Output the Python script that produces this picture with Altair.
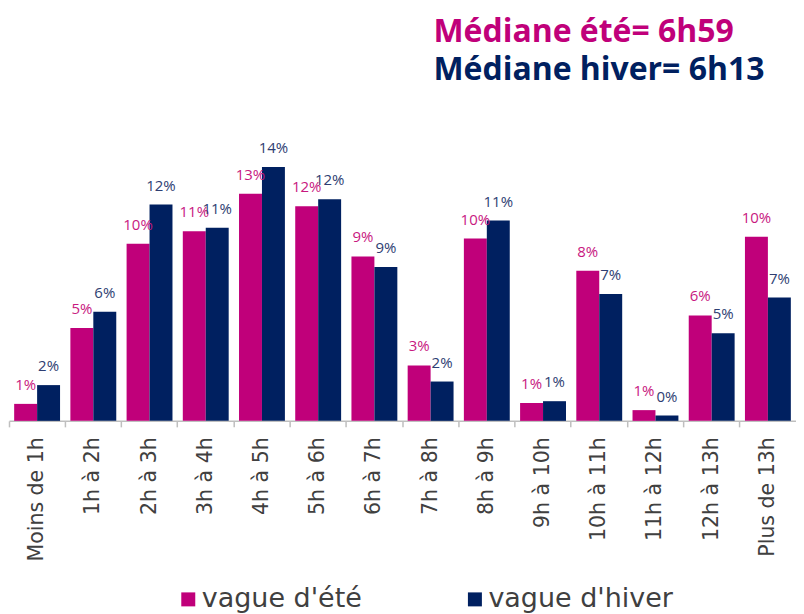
import altair as alt
import pandas as pd

categories = ["Moins de 1h", "1h à 2h", "2h à 3h", "3h à 4h", "4h à 5h", "5h à 6h",
              "6h à 7h", "7h à 8h", "8h à 9h", "9h à 10h", "10h à 11h", "11h à 12h",
              "12h à 13h", "Plus de 13h"]
ete = [0.95, 5.2, 9.9, 10.6, 12.7, 12.0, 9.2, 3.1, 10.2, 1.0, 8.4, 0.6, 5.9, 10.3]
hiver = [2.0, 6.1, 12.1, 10.8, 14.2, 12.4, 8.6, 2.2, 11.2, 1.1, 7.1, 0.3, 4.9, 6.9]
series = ["vague d'été", "vague d'hiver"]
bar_colors = ["#C0007A", "#002060"]
label_colors = ["#C8187F", "#2E3E72"]
title_lines = ["Médiane été= 6h59", "Médiane hiver= 6h13"]

rows = []
for i, c in enumerate(categories):
    rows.append({"cat": c, "serie": series[0], "v": ete[i]})
    rows.append({"cat": c, "serie": series[1], "v": hiver[i]})
df = pd.DataFrame(rows)

W = 788
H = 290

base = alt.Chart(df).transform_calculate(
    label="format(datum.v / 100, '.0%')"
).encode(
    x=alt.X("cat:N", sort=categories, title=None,
            scale=alt.Scale(paddingInner=0, paddingOuter=0),
            axis=alt.Axis(labelAngle=-90, bandPosition=0,
                          labelAlign="right", labelBaseline="middle",
                          labelFont="DejaVu Sans", labelFontSize=20.5, labelColor="#404040",
                          labelPadding=10, tickSize=6, tickColor="#BFBFBF",
                          domainColor="#BFBFBF", domainWidth=1.5, tickWidth=1.5,
                          labelLimit=300)),
    xOffset=alt.XOffset("serie:N", sort=series,
                        scale=alt.Scale(paddingInner=0, paddingOuter=0.225)),
    y=alt.Y("v:Q", scale=alt.Scale(domain=[0, 16.2]), axis=None),
)

bars = base.mark_bar().encode(
    color=alt.Color("serie:N", sort=series,
                    scale=alt.Scale(domain=series, range=bar_colors),
                    legend=alt.Legend(title=None, orient="none", legendX=166, legendY=455,
                                      direction="horizontal", symbolType="square",
                                      symbolSize=196, symbolStrokeWidth=0,
                                      labelFont="DejaVu Sans", labelFontSize=27,
                                      labelColor="#404040", columnPadding=99,
                                      labelOffset=0, labelLimit=400))
)

labels = base.mark_text(baseline="bottom", dy=-11, font="Open Sans", fontSize=15).encode(
    text="label:N",
    color=alt.Color("serie:N", sort=series,
                    scale=alt.Scale(domain=series, range=label_colors), legend=None),
)

chart = alt.layer(bars, labels).resolve_scale(color="independent").properties(
    width=W, height=H,
    padding={"left": 0, "top": 8, "right": 0, "bottom": 0},
    title=alt.TitleParams(text=title_lines[0], subtitle=title_lines[1], anchor="start",
                          frame="group", dx=425, font="Open Sans", fontSize=32,
                          fontWeight="bold", color="#C0007A",
                          subtitleFont="Open Sans", subtitleFontSize=32,
                          subtitleFontWeight="bold", subtitleColor="#002060",
                          subtitlePadding=6, offset=44),
).configure_view(stroke=None)

chart.save("out.html", embed_options={"renderer": "svg", "actions": False})
